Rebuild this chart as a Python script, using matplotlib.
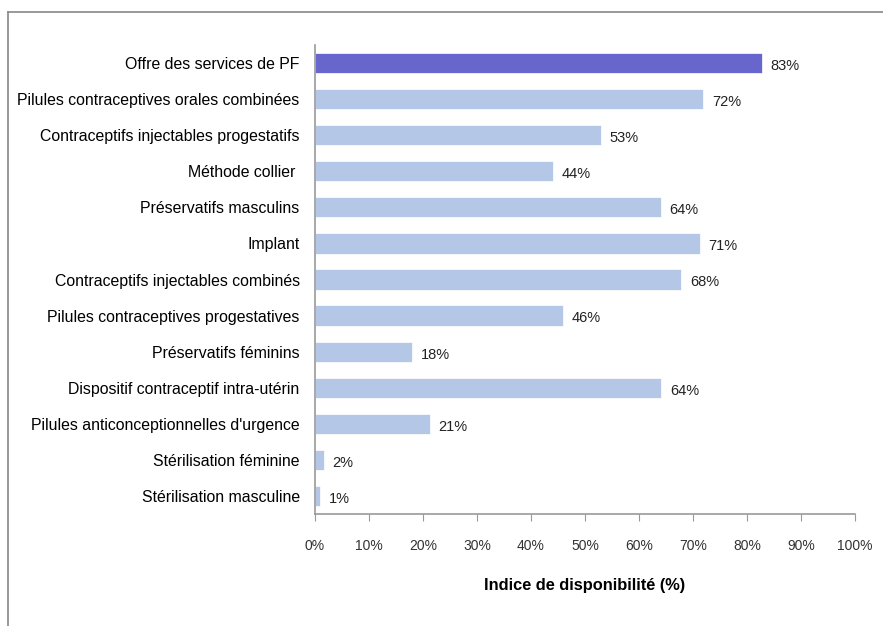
import matplotlib.pyplot as plt
from matplotlib.lines import Line2D

# Data
categories = [
    'Offre des services de PF',
    'Pilules contraceptives orales combinées',
    'Contraceptifs injectables progestatifs',
    'Méthode collier ',
    'Préservatifs masculins',
    'Implant',
    'Contraceptifs injectables combinés',
    'Pilules contraceptives progestatives',
    'Préservatifs féminins',
    'Dispositif contraceptif intra-utérin',
    "Pilules anticonceptionnelles d'urgence",
    'Stérilisation féminine',
    'Stérilisation masculine',
]
values = [82.8, 71.9, 53.0, 44.0, 64.0, 71.3, 67.8, 46.0, 18.0, 64.1, 21.3, 1.6, 0.9]
labels = ['83%', '72%', '53%', '44%', '64%', '71%', '68%', '46%', '18%', '64%', '21%', '2%', '1%']
xticks = [0, 10, 20, 30, 40, 50, 60, 70, 80, 90, 100]

plt.rcParams['font.family'] = ['Liberation Sans', 'DejaVu Sans']

colors = ['#6666CC'] + ['#B4C7E7'] * (len(values) - 1)

fig = plt.figure(figsize=(8.83, 6.26), dpi=100)
fig.patch.set_facecolor('white')
ax = fig.add_axes([0.3567, 0.179, 0.6116, 0.749])

y = list(range(len(values)))
ax.barh(y, values, height=0.56, color=colors, edgecolor='white', linewidth=0.5)

for yi, v, lab in zip(y, values, labels):
    ax.text(v + 1.6, yi + 0.08, lab, va='center', ha='left', fontsize=10.5, color='#222222')

ax.set_xlim(0, 100)
ax.set_ylim(len(values) - 0.5, -0.5)
ax.set_yticks(y)
ax.set_yticklabels(categories, fontsize=11.4, color='black')
ax.tick_params(axis='y', length=0, pad=11)
ax.set_xticks(xticks)
ax.set_xticklabels([f'{t}%' for t in xticks], fontsize=10, color='#333333')
ax.tick_params(axis='x', length=5, color='#999999', pad=13)

for s in ['top', 'right']:
    ax.spines[s].set_visible(False)
for s in ['left', 'bottom']:
    ax.spines[s].set_color('#999999')
    ax.spines[s].set_linewidth(1.2)

ax.set_xlabel('Indice de disponibilité (%)', fontsize=11.8, fontweight='bold', labelpad=18)

# outer frame (top and left edges)
fig.add_artist(Line2D([8 / 883, 1.0], [1 - 12 / 626, 1 - 12 / 626], transform=fig.transFigure,
                      color='#888888', linewidth=1.2))
fig.add_artist(Line2D([8 / 883, 8 / 883], [0.0, 1 - 12 / 626], transform=fig.transFigure,
                      color='#888888', linewidth=1.2))

plt.savefig('out.png', dpi=100, facecolor='white')
